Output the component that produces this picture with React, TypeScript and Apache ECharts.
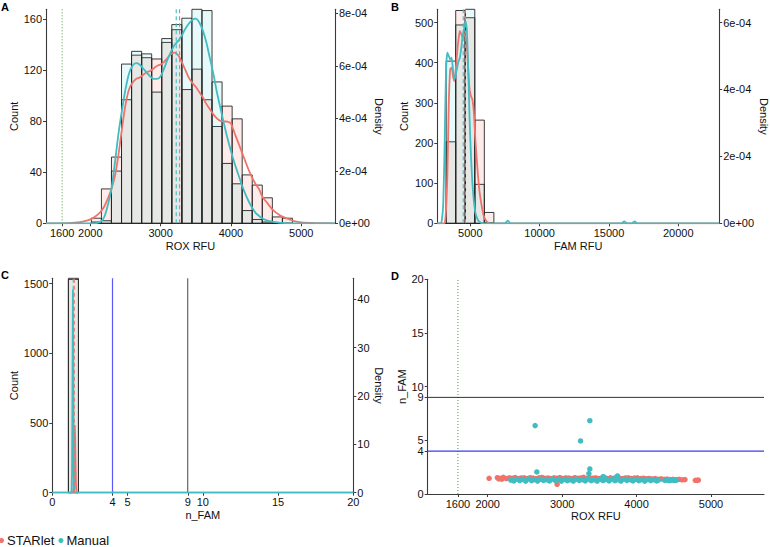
import React, { useEffect, useRef } from 'react';
import * as echarts from 'echarts';

const FONT = '"Liberation Sans", Arial, Helvetica, sans-serif';
const STARLET = '#F0736B';
const MANUAL = '#3FBDC2';
const STARLET_FILL = 'rgba(248,118,109,0.14)';
const MANUAL_FILL = 'rgba(0,191,196,0.09)';

const groupNames = ['STARlet', 'Manual'];

// ---------- Panel A: ROX RFU histogram + density ----------
const roxBinStart = 2015;
const roxBinWidth = 143;
const roxCountsStarlet = [4, 27, 52, 97, 132, 130, 129, 142, 152, 105, 121, 97, 76, 92, 82, 38, 30, 20, 5, 4];
const roxCountsManual = [1, 2, 41, 125, 135, 133, 103, 145, 156, 161, 168, 167, 111, 47, 31, 10, 3, 1, 0, 0];

const roxDensX = [1370, 1700, 1850, 1950, 2000, 2050, 2100, 2150, 2200, 2250, 2300, 2350, 2400, 2450, 2500, 2550, 2600, 2650, 2700, 2750, 2800, 2850, 2900, 2950, 3000, 3050, 3100, 3150, 3200, 3250, 3300, 3350, 3400, 3450, 3500, 3550, 3600, 3650, 3700, 3750, 3800, 3850, 3900, 3950, 4000, 4050, 4100, 4150, 4200, 4250, 4300, 4350, 4400, 4450, 4500, 4600, 4700, 4800, 4900, 5000, 5200, 5480];
const roxDensStarlet = [0, 1e-6, 4e-6, 1e-5, 1.5e-5, 2.2e-5, 3.2e-5, 4.5e-5, 6.5e-5, 9.5e-5, 1.3e-4, 1.8e-4, 2.6e-4, 3.6e-4, 4.5e-4, 5.1e-4, 5.35e-4, 5.5e-4, 5.55e-4, 5.65e-4, 5.75e-4, 5.8e-4, 5.9e-4, 6.0e-4, 6.05e-4, 6.15e-4, 6.3e-4, 6.45e-4, 6.5e-4, 6.4e-4, 6.15e-4, 5.85e-4, 5.55e-4, 5.35e-4, 5.2e-4, 5.0e-4, 4.8e-4, 4.55e-4, 4.35e-4, 4.15e-4, 4.0e-4, 3.9e-4, 3.88e-4, 3.87e-4, 3.8e-4, 3.45e-4, 3.1e-4, 2.75e-4, 2.4e-4, 2.05e-4, 1.75e-4, 1.5e-4, 1.3e-4, 1.0e-4, 8.3e-5, 5e-5, 3e-5, 1.8e-5, 8e-6, 3e-6, 1e-6, 0];
const roxDensManual = [0, 0, 0, 0, 0, 0, 2e-6, 6e-6, 2.5e-5, 7e-5, 1.3e-4, 2.3e-4, 3.4e-4, 4.3e-4, 5.1e-4, 5.7e-4, 6.0e-4, 6.1e-4, 6.05e-4, 5.9e-4, 5.75e-4, 5.6e-4, 5.5e-4, 5.5e-4, 5.6e-4, 5.9e-4, 6.25e-4, 6.55e-4, 6.8e-4, 6.95e-4, 7.15e-4, 7.4e-4, 7.6e-4, 7.75e-4, 7.8e-4, 7.65e-4, 7.35e-4, 6.9e-4, 6.3e-4, 5.7e-4, 5.0e-4, 4.4e-4, 3.8e-4, 3.25e-4, 2.75e-4, 2.3e-4, 1.9e-4, 1.5e-4, 1.15e-4, 8.5e-5, 6e-5, 4e-5, 2.8e-5, 1.8e-5, 1.2e-5, 5e-6, 2e-6, 0, 0, 0, 0, 0];
const roxMeans = [3270, 3222];
const roxCutoff = 1600;
const roxTicks = [1600, 2000, 3000, 4000, 5000];
const countTicksA = [0, 40, 80, 120, 160];
const densTicksA = [0, 0.0002, 0.0004, 0.0006, 0.0008];
const densLabelsA = ['0e+00', '2e-04', '4e-04', '6e-04', '8e-04'];

// ---------- Panel B: FAM RFU ----------
const famBinStart = 3260;
const famBinWidth = 688;
const famCountsStarlet = [203, 530, 512, 257, 27];
const famCountsManual = [404, 494, 533, 97, 2];
const famDensX = [2620, 2850, 2950, 3050, 3150, 3250, 3350, 3450, 3550, 3650, 3750, 3850, 3950, 4050, 4150, 4250, 4350, 4450, 4550, 4650, 4750, 4850, 4950, 5050, 5150, 5250, 5350, 5450, 5550, 5650, 5750, 5850, 5950, 6100, 6250, 6500, 7500, 7700, 7900, 15900, 16100, 16300, 16650, 16850, 17050, 22950];
const famDensManual = [0, 0, 1e-5, 6e-5, 2.4e-4, 4.6e-4, 5.1e-4, 5.0e-4, 4.9e-4, 4.95e-4, 4.6e-4, 4.3e-4, 4.45e-4, 4.65e-4, 4.85e-4, 4.95e-4, 5.25e-4, 5.6e-4, 5.8e-4, 6.05e-4, 5.8e-4, 4.6e-4, 3.1e-4, 2.0e-4, 1.2e-4, 7e-5, 3.5e-5, 2e-5, 1e-5, 5e-6, 2e-6, 0, 0, 0, 0, 0, 0, 8e-6, 0, 0, 6e-6, 0, 0, 6e-6, 0, 0];
const famDensStarlet = [0, 0, 0, 0, 0, 4e-5, 1.5e-4, 3.6e-4, 4.6e-4, 4.65e-4, 4.4e-4, 4.25e-4, 4.6e-4, 5.1e-4, 5.5e-4, 5.75e-4, 5.65e-4, 5.55e-4, 5.65e-4, 5.6e-4, 5.3e-4, 4.6e-4, 4.0e-4, 3.8e-4, 3.7e-4, 3.35e-4, 2.6e-4, 2.0e-4, 1.45e-4, 1.0e-4, 7e-5, 4.5e-5, 2.5e-5, 1e-5, 3e-6, 0, 0, 0, 0, 0, 0, 0, 0, 0, 0, 0];
const famMeans = [4650, 4490];
const famTicks = [5000, 10000, 15000, 20000];
const countTicksB = [0, 100, 200, 300, 400, 500];
const densTicksB = [0, 0.0002, 0.0004, 0.0006];
const densLabelsB = ['0e+00', '2e-04', '4e-04', '6e-04'];

// ---------- Panel C: n_FAM ----------
const nfamBinStart = 1.07;
const nfamBinWidth = 0.667;
const nfamCountsStarlet = [1538];
const nfamCountsManual = [1530];
const nfamDensX = [0, 1.2, 1.28, 1.31, 1.34, 1.37, 1.4, 1.43, 1.46, 1.49, 1.52, 1.55, 1.58, 1.62, 1.7, 20];
const nfamDensManual = [0, 0, 0, 4, 22, 42, 24, 4, 0, 0, 0, 0, 0, 0, 0, 0];
const nfamDensStarlet = [0, 0, 0, 0, 0, 0, 0, 2, 8, 14, 11, 5, 1, 0, 0, 0];
const nfamMeans = [1.46, 1.39];
const nfamCutoffs = [4, 9];
const nfamTicks = [0, 4, 5, 9, 10, 15, 20];
const countTicksC = [0, 500, 1000, 1500];
const densTicksC = [0, 10, 20, 30, 40];

// ---------- Panel D: scatter ROX vs n_FAM ----------
const scatterStarletX = [2130, 2170, 2210, 2250, 2290, 2330, 2370, 2410, 2450, 2490, 2530, 2570, 2610, 2650, 2690, 2730, 2770, 2810, 2850, 2890, 2930, 2970, 3010, 3050, 3090, 3130, 3170, 3210, 3250, 3290, 3330, 3370, 3410, 3450, 3490, 3530, 3570, 3610, 3650, 3690, 3730, 3770, 3810, 3850, 3890, 3930, 3970, 4010, 4050, 4090, 4130, 4170, 4210, 4250, 4290, 4330, 4370, 4410, 4450, 4490, 4530, 4570, 4610, 4650, 2019, 2933, 4790, 4815, 4830, 2150, 2190];
const scatterStarletY = [1.52, 1.46, 1.55, 1.44, 1.5, 1.47, 1.53, 1.43, 1.49, 1.51, 1.45, 1.52, 1.48, 1.44, 1.5, 1.54, 1.46, 1.49, 1.43, 1.51, 1.47, 1.53, 1.45, 1.5, 1.48, 1.44, 1.52, 1.46, 1.49, 1.55, 1.43, 1.5, 1.47, 1.51, 1.45, 1.48, 1.53, 1.44, 1.5, 1.46, 1.52, 1.47, 1.43, 1.49, 1.51, 1.45, 1.48, 1.5, 1.44, 1.47, 1.42, 1.45, 1.4, 1.43, 1.38, 1.41, 1.36, 1.39, 1.35, 1.37, 1.33, 1.36, 1.32, 1.34, 1.46, 0.9, 1.28, 1.27, 1.3, 1.4, 1.38];
const scatterManualX = [2310, 2350, 2390, 2430, 2470, 2510, 2550, 2590, 2630, 2670, 2710, 2750, 2790, 2830, 2870, 2910, 2950, 2990, 3030, 3070, 3110, 3150, 3190, 3230, 3270, 3310, 3350, 3390, 3430, 3470, 3510, 3550, 3590, 3630, 3670, 3710, 3750, 3790, 3830, 3870, 3910, 3950, 3990, 4030, 4070, 4110, 4150, 4190, 4230, 4270, 4290, 4380, 4410, 4440, 4470, 4500, 4530, 3551, 3744, 3565, 3730, 2637, 3372, 3247, 3372, 3359, 2660];
const scatterManualY = [1.3, 1.22, 1.38, 1.25, 1.36, 1.2, 1.4, 1.24, 1.35, 1.21, 1.38, 1.26, 1.33, 1.22, 1.39, 1.25, 1.36, 1.2, 1.37, 1.24, 1.34, 1.21, 1.38, 1.26, 1.35, 1.22, 1.4, 1.24, 1.33, 1.2, 1.37, 1.25, 1.36, 1.22, 1.39, 1.24, 1.34, 1.21, 1.38, 1.26, 1.35, 1.22, 1.37, 1.24, 1.33, 1.2, 1.36, 1.25, 1.34, 1.22, 1.3, 1.27, 1.3, 1.25, 1.29, 1.26, 1.28, 1.61, 1.68, 1.55, 1.58, 6.37, 6.83, 4.94, 2.33, 1.9, 2.05];
const nfamTicksD = [0, 4, 5, 9, 10, 15, 20];
const roxTicksD = [1600, 2000, 3000, 4000, 5000];

const zip = (xs: number[], ys: number[]) => xs.map((x, i) => [x, ys[i]]);
const hist = (start: number, width: number, counts: number[]) =>
  counts.map((c, i) => [start + i * width, start + (i + 1) * width, c]);

const labelFromList = (ticks: number[], labels: string[]) => (v: number) => {
  const i = ticks.findIndex((t) => Math.abs(t - v) < 1e-9);
  return i >= 0 ? labels[i] : '';
};
const plainLabel = (v: number) => String(v);

function histSeries(name: string, fill: string, xi: number, yi: number, data: number[][]) {
  return {
    type: 'custom',
    name,
    xAxisIndex: xi,
    yAxisIndex: yi,
    data,
    encode: { x: [0, 1], y: 2 },
    silent: true,
    z: 1,
    renderItem: (_p: any, api: any) => {
      const a = api.coord([api.value(0), 0]);
      const b = api.coord([api.value(1), api.value(2)]);
      return {
        type: 'rect',
        shape: { x: a[0], y: b[1], width: b[0] - a[0], height: a[1] - b[1] },
        style: { fill, stroke: '#262626', lineWidth: 0.9 },
      };
    },
  };
}

function lineSeries(name: string, xi: number, yi: number, data: number[][], color: string, width: number, type: any, z: number, smooth: number | boolean = false) {
  return {
    type: 'line',
    name,
    xAxisIndex: xi,
    yAxisIndex: yi,
    data,
    showSymbol: false,
    symbol: 'none',
    silent: true,
    smooth,
    lineStyle: { color, width, type },
    z,
  };
}

const axisBase = (extra: any) => ({
  type: 'value',
  splitLine: { show: false },
  axisLine: { show: true, onZero: false, lineStyle: { color: '#3a3a3a', width: 1.1 } },
  axisTick: { show: true, length: 3, lineStyle: { color: '#3a3a3a', width: 1 } },
  axisLabel: { color: '#111', fontSize: 11, fontFamily: FONT, margin: 4 },
  nameLocation: 'middle',
  nameTextStyle: { color: '#111', fontSize: 11, fontFamily: FONT },
  ...extra,
});

const withTicks = (base: any, ticks: number[], formatter: (v: number) => string = plainLabel) => {
  base.axisTick = { ...base.axisTick, customValues: ticks };
  base.axisLabel = { ...base.axisLabel, customValues: ticks, showMinLabel: true, showMaxLabel: true, formatter };
  return base;
};

export default function App() {
  const ref = useRef<HTMLDivElement>(null);
  useEffect(() => {
    if (!ref.current) return;
    const chart = echarts.init(ref.current, null, { renderer: 'svg' });

    const roxMax = 168;
    const famMax = 533;
    const nfamMax = 1538;

    const xAxes = [
      withTicks(axisBase({ gridIndex: 0, min: 1370, max: 5480, name: 'ROX RFU', nameGap: 17 }), roxTicks),
      withTicks(axisBase({ gridIndex: 1, min: 2620, max: 22950, name: 'FAM RFU', nameGap: 17 }), famTicks),
      withTicks(axisBase({ gridIndex: 2, min: 0, max: 20, name: 'n_FAM', nameGap: 17 }), nfamTicks),
      withTicks(axisBase({ gridIndex: 3, min: 1194, max: 5712, name: 'ROX RFU', nameGap: 16 }), roxTicksD),
    ];
    const yAxes = [
      withTicks(axisBase({ gridIndex: 0, min: 0, max: roxMax, name: 'Count', nameGap: 27 }), countTicksA),
      withTicks(axisBase({ gridIndex: 0, min: 0, max: 8.152e-4, position: 'right', name: 'Density', nameGap: 34, nameRotate: -90 }), densTicksA, labelFromList(densTicksA, densLabelsA)),
      withTicks(axisBase({ gridIndex: 1, min: 0, max: famMax, name: 'Count', nameGap: 28 }), countTicksB),
      withTicks(axisBase({ gridIndex: 1, min: 0, max: 6.397e-4, position: 'right', name: 'Density', nameGap: 34, nameRotate: -90 }), densTicksB, labelFromList(densTicksB, densLabelsB)),
      withTicks(axisBase({ gridIndex: 2, min: 0, max: nfamMax, name: 'Count', nameGap: 33 }), countTicksC),
      withTicks(axisBase({ gridIndex: 2, min: 0, max: 44.3, position: 'right', name: 'Density', nameGap: 15, nameRotate: -90 }), densTicksC),
      withTicks(axisBase({ gridIndex: 3, min: 0, max: 20, name: 'n_FAM', nameGap: 16 }), nfamTicksD),
    ];

    const series: any[] = [
      // Panel A
      histSeries(groupNames[0], STARLET_FILL, 0, 0, hist(roxBinStart, roxBinWidth, roxCountsStarlet)),
      histSeries(groupNames[1], MANUAL_FILL, 0, 0, hist(roxBinStart, roxBinWidth, roxCountsManual)),
      lineSeries('', 0, 0, [[roxCutoff, 0], [roxCutoff, roxMax]], '#4f9a3c', 1, [1, 2], 2),
      lineSeries('', 0, 0, [[roxMeans[1], 0], [roxMeans[1], roxMax]], MANUAL, 1.1, [4, 3], 4),
      lineSeries('', 0, 0, [[roxMeans[0], 0], [roxMeans[0], roxMax]], STARLET, 1.1, [4, 3], 4),
      lineSeries(groupNames[0], 0, 1, zip(roxDensX, roxDensStarlet), STARLET, 1.8, 'solid', 3, 0.3),
      lineSeries(groupNames[1], 0, 1, zip(roxDensX, roxDensManual), MANUAL, 1.8, 'solid', 3, 0.3),
      // Panel B
      histSeries(groupNames[0], STARLET_FILL, 1, 2, hist(famBinStart, famBinWidth, famCountsStarlet)),
      histSeries(groupNames[1], MANUAL_FILL, 1, 2, hist(famBinStart, famBinWidth, famCountsManual)),
      lineSeries('', 1, 2, [[famMeans[1], 0], [famMeans[1], famMax]], MANUAL, 1.1, [4, 3], 4),
      lineSeries('', 1, 2, [[famMeans[0], 0], [famMeans[0], famMax]], STARLET, 1.1, [4, 3], 4),
      lineSeries(groupNames[0], 1, 3, zip(famDensX, famDensStarlet), STARLET, 1.8, 'solid', 3, 0.2),
      lineSeries(groupNames[1], 1, 3, zip(famDensX, famDensManual), MANUAL, 1.8, 'solid', 3, 0.2),
      // Panel C
      histSeries(groupNames[0], STARLET_FILL, 2, 4, hist(nfamBinStart, nfamBinWidth, nfamCountsStarlet)),
      histSeries(groupNames[1], MANUAL_FILL, 2, 4, hist(nfamBinStart, nfamBinWidth, nfamCountsManual)),
      lineSeries('', 2, 4, [[nfamCutoffs[0], 0], [nfamCutoffs[0], nfamMax]], '#5a5aff', 1.2, 'solid', 2),
      lineSeries('', 2, 4, [[nfamCutoffs[1], 0], [nfamCutoffs[1], nfamMax]], '#444444', 1, 'solid', 2),
      lineSeries(groupNames[0], 2, 5, zip(nfamDensX, nfamDensStarlet), STARLET, 1.8, 'solid', 3),
      lineSeries(groupNames[1], 2, 5, zip(nfamDensX, nfamDensManual), MANUAL, 1.8, 'solid', 3),
      lineSeries('', 2, 4, [[nfamMeans[1], 0], [nfamMeans[1], nfamMax]], MANUAL, 1.1, [4, 3], 4),
      lineSeries('', 2, 4, [[nfamMeans[0], 0], [nfamMeans[0], nfamMax]], STARLET, 1.1, [4, 3], 4),
      // Panel D
      lineSeries('', 3, 6, [[roxCutoff, 0], [roxCutoff, 20]], '#4f9a3c', 1, [1, 2], 2),
      lineSeries('', 3, 6, [[1194, nfamCutoffs[0]], [5712, nfamCutoffs[0]]], '#3a3af5', 1.2, 'solid', 2),
      lineSeries('', 3, 6, [[1194, nfamCutoffs[1]], [5712, nfamCutoffs[1]]], '#333333', 1, 'solid', 2),
      {
        type: 'scatter', name: groupNames[0], xAxisIndex: 3, yAxisIndex: 6, silent: true,
        data: zip(scatterStarletX, scatterStarletY), symbolSize: 5.5,
        itemStyle: { color: STARLET, opacity: 1 }, z: 3,
      },
      {
        type: 'scatter', name: groupNames[1], xAxisIndex: 3, yAxisIndex: 6, silent: true,
        data: zip(scatterManualX, scatterManualY), symbolSize: 5.5,
        itemStyle: { color: MANUAL, opacity: 1 }, z: 4,
      },
    ];

    const panelLabel = (text: string, left: number, top: number) => ({
      type: 'text', left, top,
      style: { text, fill: '#000', font: `bold 11px ${FONT}` },
    });

    chart.setOption({
      animation: false,
      textStyle: { fontFamily: FONT },
      grid: [
        { left: 46, top: 9.3, width: 289, height: 214 },
        { left: 437.3, top: 9.3, width: 288.4, height: 214 },
        { left: 52.3, top: 278.3, width: 301, height: 214.4 },
        { left: 427.7, top: 279.3, width: 336.3, height: 214.7 },
      ],
      xAxis: xAxes,
      yAxis: yAxes,
      legend: {
        left: -1, top: 534, padding: 0, itemWidth: 5, itemHeight: 5, itemGap: 4,
        selectedMode: false,
        textStyle: { fontSize: 13, color: '#111', fontFamily: FONT, padding: [0, 0, 0, -2] },
        data: [
          { name: groupNames[0], icon: 'circle', itemStyle: { color: STARLET } },
          { name: groupNames[1], icon: 'circle', itemStyle: { color: MANUAL } },
        ],
      },
      graphic: [
        panelLabel('A', 1, 1),
        panelLabel('B', 391, 1),
        panelLabel('C', 1, 269),
        panelLabel('D', 391, 270),
      ],
      series,
    });
    return () => chart.dispose();
  }, []);
  return <div ref={ref} style={{ position: 'absolute', left: 0, top: 0, width: 770, height: 547 }} />;
}
